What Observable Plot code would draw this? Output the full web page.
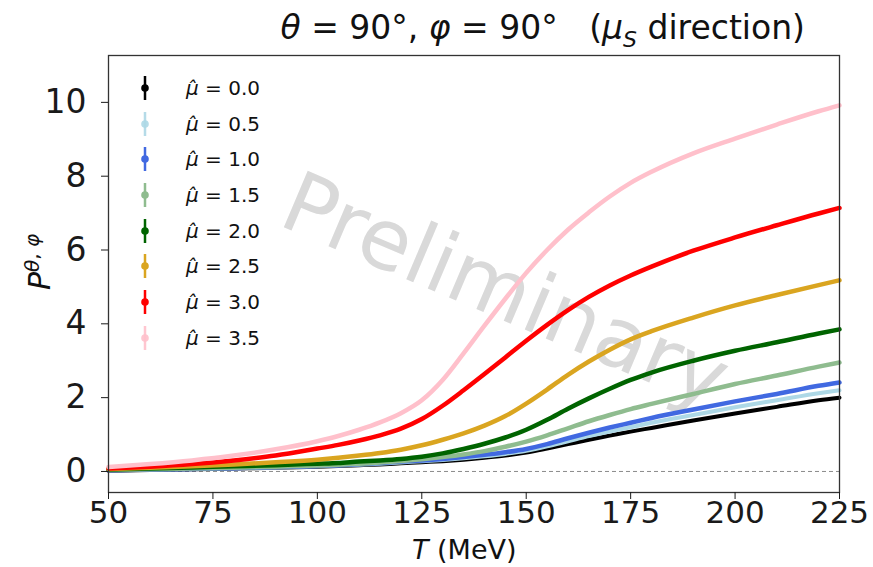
<!DOCTYPE html>
<html><head><meta charset="utf-8">
<script src="https://cdn.jsdelivr.net/npm/d3@7"></script>
<script src="https://cdn.jsdelivr.net/npm/@observablehq/plot@0.6"></script>
<style>
body{margin:0;background:#fff;}
#wrap{position:relative;width:873px;height:567px;font-family:"DejaVu Sans",sans-serif;color:#111;overflow:hidden;}
#wrap svg{position:absolute;left:0;top:0;}
.ov{position:absolute;white-space:pre;line-height:1;}
.leg{position:absolute;left:132px;top:70px;}
.row{display:flex;align-items:center;height:35.7px;font-size:20px;}
.row svg{position:static !important;margin-right:28px;}
</style></head><body><div id="wrap"></div>
<script>
const T = [50,60,70,80,90,100,105,110,115,120,125,130,135,140,145,150,155,160,165,170,175,180,190,200,210,220,225];
const mu00 = [0.02,0.04,0.06,0.08,0.10,0.13,0.15,0.17,0.19,0.22,0.25,0.28,0.32,0.37,0.43,0.51,0.62,0.74,0.86,0.97,1.08,1.18,1.38,1.57,1.75,1.93,2.00];
const mu05 = [0.03,0.045,0.065,0.085,0.11,0.14,0.16,0.185,0.21,0.245,0.275,0.31,0.355,0.41,0.475,0.56,0.68,0.82,0.96,1.08,1.20,1.32,1.53,1.74,1.93,2.12,2.20];
const mu10 = [0.03,0.05,0.07,0.09,0.12,0.15,0.17,0.20,0.23,0.27,0.30,0.34,0.39,0.45,0.52,0.61,0.74,0.90,1.05,1.19,1.32,1.45,1.68,1.90,2.10,2.32,2.41];
const mu15 = [0.04,0.06,0.08,0.10,0.13,0.16,0.18,0.21,0.24,0.28,0.33,0.39,0.46,0.55,0.67,0.81,0.98,1.17,1.36,1.53,1.69,1.83,2.10,2.37,2.60,2.84,2.95];
const mu20 = [0.05,0.08,0.11,0.14,0.17,0.21,0.23,0.27,0.30,0.34,0.40,0.49,0.61,0.75,0.92,1.13,1.40,1.70,1.98,2.24,2.48,2.68,3.00,3.27,3.50,3.74,3.85];
const mu25 = [0.07,0.10,0.14,0.19,0.25,0.32,0.37,0.43,0.50,0.59,0.71,0.86,1.03,1.24,1.50,1.84,2.22,2.62,2.98,3.30,3.58,3.80,4.17,4.50,4.78,5.05,5.18];
const mu30 = [0.08,0.13,0.20,0.30,0.43,0.62,0.72,0.84,0.98,1.16,1.42,1.78,2.20,2.64,3.09,3.54,3.97,4.37,4.73,5.04,5.31,5.55,5.98,6.34,6.67,6.99,7.14];
const mu35 = [0.12,0.20,0.30,0.43,0.60,0.82,0.96,1.13,1.33,1.58,1.93,2.48,3.20,3.95,4.68,5.38,6.00,6.55,7.02,7.45,7.82,8.12,8.62,9.02,9.40,9.76,9.92];
const muLabels = ["0.0","0.5","1.0","1.5","2.0","2.5","3.0","3.5"];
const xTicks = [50,75,100,125,150,175,200,225];
const yTicks = [0,2,4,6,8,10];

const seriesVals = [mu00,mu05,mu10,mu15,mu20,mu25,mu30,mu35];
const colors = ["#000000","#add8e6","#4169e1","#8fbc8f","#006400","#daa520","#ff0000","#ffc0cb"];
const widths = [4,4,4.5,4.5,4.5,4.5,4.5,4.5];

const rows = seriesVals.flatMap((vals,k)=>vals.map((v,i)=>({T:T[i],P:v,mu:muLabels[k]})));

const chart = Plot.plot({
  width:873, height:567,
  marginLeft:108, marginRight:34, marginTop:55, marginBottom:75,
  style:{fontFamily:"DejaVu Sans", fontSize:"33px", color:"#1a1a1a", background:"#fff"},
  x:{domain:[50,225]},
  y:{domain:[-0.57,11.27]},
  marks:[
    Plot.text(["Preliminary"],{frameAnchor:"middle",dx:31,dy:18,rotate:23,fontSize:84,fill:"#d9d9d9"}),
    Plot.ruleY([0],{stroke:"#8a8a8a",strokeDasharray:"4,3",strokeWidth:1}),
    ...muLabels.map((m,k)=>Plot.line(rows.filter(r=>r.mu===m),{x:"T",y:"P",stroke:colors[k],strokeWidth:widths[k],curve:"monotone-x"})),
    Plot.frame({stroke:"#333",strokeWidth:1.3}),
    Plot.axisX({ticks:xTicks,tickSize:7,tickPadding:1,fontSize:31,label:null,tickFormat:d=>String(d)}),
    Plot.axisY({ticks:yTicks,tickSize:7,tickPadding:15,fontSize:33,label:null,tickFormat:d=>String(d)})
  ]
});
const wrap = document.getElementById("wrap");
wrap.appendChild(chart);

function ov(html, css){const d=document.createElement("div");d.className="ov";d.innerHTML=html;Object.assign(d.style,css);wrap.appendChild(d);return d;}
ov('<i>θ</i> = 90°, <i>φ</i> = 90°   (<i>μ</i><sub style="font-size:22px;"><i>S</i></sub> direction)',{right:"68px",top:"11px",fontSize:"33px"});
ov('<i>T</i> (MeV)',{left:"412px",top:"536px",fontSize:"27px"});
ov('<i>P</i><sup style="font-size:20px;"><i>θ</i>, <i>φ</i></sup>',{left:"18px",top:"270px",fontSize:"30px",transform:"translate(0,-50%) rotate(-90deg)",transformOrigin:"20px 50%"});

const leg = document.createElement("div"); leg.className="leg"; wrap.appendChild(leg);
muLabels.forEach((m,k)=>{
  const r=document.createElement("div"); r.className="row";
  const op = (k===1||k===7)?0.9:1;
  r.innerHTML=`<svg width="26" height="30" viewBox="0 0 26 30"><line x1="13" x2="13" y1="3" y2="27" stroke="${colors[k]}" stroke-width="2.5" opacity="${op}"/><circle cx="13" cy="15" r="3.8" fill="${colors[k]}" opacity="${op}"/></svg><span><i>μ̂</i> = ${m}</span>`;
  leg.appendChild(r);
});
</script></body></html>
